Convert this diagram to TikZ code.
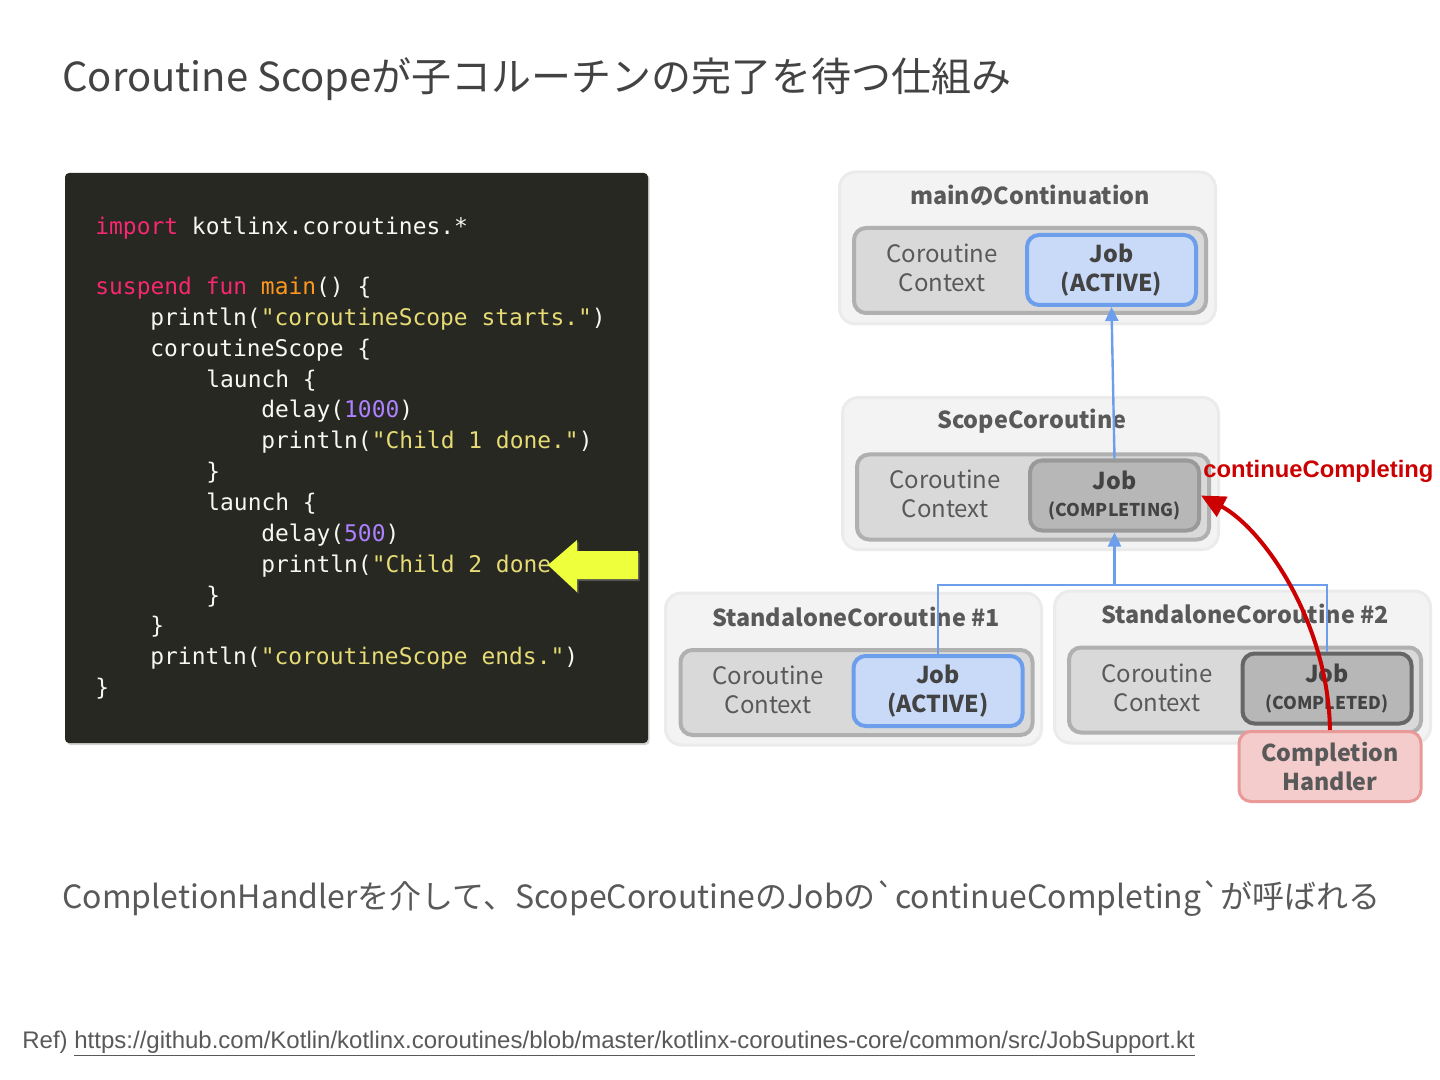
\documentclass[tikz,border=0pt]{standalone}
\usepackage{fontspec}
\setmainfont[Ligatures=TeXOff]{Noto Sans CJK JP}
\newfontfamily\codefont{DejaVu Sans Mono}
\newfontfamily\arialfont{Liberation Sans}
\usepackage{tikz}
\usetikzlibrary{arrows.meta,shadows}
\usepackage{xcolor}
\definecolor{Ink}{HTML}{434343}
\definecolor{Mid}{HTML}{595959}
\definecolor{PanelBg}{HTML}{272822}
\definecolor{CodeTxt}{HTML}{F8F8F2}
\definecolor{CodeKey}{HTML}{F92672}
\definecolor{CodeFun}{HTML}{FD971F}
\definecolor{CodeStr}{HTML}{E6DB74}
\definecolor{CodeNum}{HTML}{AE81FF}
\definecolor{Marker}{HTML}{EEFF3C}
\definecolor{OuterFill}{HTML}{F3F3F3}
\definecolor{OuterLine}{HTML}{EBEBEB}
\definecolor{CtxFill}{HTML}{D9D9D9}
\definecolor{CtxLine}{HTML}{B0B0B0}
\definecolor{ActFill}{HTML}{C9DAF8}
\definecolor{ActLine}{HTML}{6D9EEB}
\definecolor{DoneFill}{HTML}{B7B7B7}
\definecolor{DoneLine}{HTML}{999999}
\definecolor{DeadLine}{HTML}{666666}
\definecolor{HdlFill}{HTML}{F4CCCC}
\definecolor{HdlLine}{HTML}{EA9999}
\definecolor{Alarm}{HTML}{CC0000}
\newcommand{\ckw}[1]{\textcolor{CodeKey}{#1}}
\newcommand{\cfn}[1]{\textcolor{CodeFun}{#1}}
\newcommand{\cstr}[1]{\textcolor{CodeStr}{#1}}
\newcommand{\cnum}[1]{\textcolor{CodeNum}{#1}}
\tikzset{
  outerbox/.style={draw=OuterLine, fill=OuterFill, line width=1.5pt,
    rounded corners=8pt, minimum width=188pt, minimum height=76pt},
  ctxbox/.style={draw=CtxLine, fill=CtxFill, line width=2pt,
    rounded corners=6pt, minimum width=176pt, minimum height=42.5pt},
  jobbox/.style={draw=#1, line width=2pt, rounded corners=6pt,
    minimum width=84.5pt, minimum height=35pt, align=center,
    font=\fontsize{11.6}{14.5}\selectfont\bfseries, text=Ink, inner sep=0pt},
  jobbox/.default={ActLine},
  boxtitle/.style={font=\fontsize{11.7}{14}\selectfont\bfseries, text=Mid},
  ctxtext/.style={align=center, font=\fontsize{12}{14.5}\selectfont,
    text=Mid, inner sep=0pt},
  codeline/.style={anchor=base west, inner sep=0pt, text=CodeTxt,
    font=\codefont\fontsize{11.46}{15.4}\selectfont},
  bluearr/.style={-{Triangle[length=7pt,width=6.5pt]}, draw=ActLine, line width=1.2pt},
  blueline/.style={draw=ActLine, line width=1.2pt},
  redarr/.style={-{Triangle[length=12pt,width=11pt]}, draw=Alarm, line width=2pt},
}

\begin{document}
\begin{tikzpicture}[x=0.5pt, y=-0.5pt]
  \useasboundingbox (0,0) rectangle (1440,1080);

  \node[anchor=base west, inner sep=0pt, text=Ink,
    font=\fontsize{20}{24}\selectfont] (title) at (62,92)
    {Coroutine Scopeが子コルーチンの完了を待つ仕組み};

  % code panel
  \node[fill=PanelBg, rounded corners=2pt, minimum width=291.5pt, minimum height=285pt,
    drop shadow={opacity=0.35, shadow xshift=0.8pt, shadow yshift=-1pt}] (panel) at (356.5,458) {};
  \node[codeline] (c1) at (95,235) {\ckw{import} kotlinx.coroutines.*};
  \node[codeline] (c2) at (95,295) {\ckw{suspend} \ckw{fun} \cfn{main}() \{};
  \node[codeline] (c3) at (150,326) {println(\cstr{"coroutineScope starts."})};
  \node[codeline] (c4) at (150,357) {coroutineScope \{};
  \node[codeline] (c5) at (206,388) {launch \{};
  \node[codeline] (c6) at (261,418) {delay(\cnum{1000})};
  \node[codeline] (c7) at (261,449) {println(\cstr{"Child 1 done."})};
  \node[codeline] (c8) at (206,480) {\}};
  \node[codeline] (c9) at (206,510) {launch \{};
  \node[codeline] (c10) at (261,541) {delay(\cnum{500})};
  \node[codeline] (c11) at (261,572) {println(\cstr{"Child 2 done."})};
  \node[codeline] (c12) at (206,603) {\}};
  \node[codeline] (c13) at (150,633) {\}};
  \node[codeline] (c14) at (150,664) {println(\cstr{"coroutineScope ends."})};
  \node[codeline] (c15) at (95,695) {\}};
  \fill[Marker, drop shadow={opacity=0.5, shadow xshift=0.8pt, shadow yshift=-1pt}]
    (548,565) -- (577,540) -- (577,551) -- (638,551) -- (638,579)
    -- (577,579) -- (577,592) -- cycle;

  % mainのContinuation
  \node[outerbox] (mainout) at (1027.5,248) {};
  \node[boxtitle] (maintitle) at (1030,195) {mainのContinuation};
  \node[ctxbox] (mainctx) at (1030,270.5) {};
  \node[ctxtext] (mainctxt) at (942,268) {Coroutine\\Context};
  \node[jobbox, fill=ActFill] (mainjob) at (1111.5,270) {Job\\(ACTIVE)};

  % ScopeCoroutine
  \node[outerbox] (scopeout) at (1030.5,473.5) {};
  \node[boxtitle] (scopetitle) at (1032,421) {ScopeCoroutine};
  \node[ctxbox] (scopectx) at (1033,497) {};
  \node[ctxtext] (scopectxt) at (945,494) {Coroutine\\Context};
  \node[jobbox=DoneLine, fill=DoneFill] (scopejob) at (1114.5,495.5)
    {Job\\[-1pt]{\fontsize{8.8}{10}\selectfont(COMPLETING)}};

  % StandaloneCoroutine #1
  \node[outerbox] (sc1out) at (853.5,669) {};
  \node[boxtitle] (sc1title) at (856,617) {StandaloneCoroutine \#1};
  \node[ctxbox] (sc1ctx) at (856.5,692.5) {};
  \node[ctxtext] (sc1ctxt) at (768,690) {Coroutine\\Context};
  \node[jobbox, fill=ActFill] (sc1job) at (938,691) {Job\\(ACTIVE)};

  % StandaloneCoroutine #2
  \node[outerbox] (sc2out) at (1242.5,667) {};
  \node[boxtitle] (sc2title) at (1245,614) {StandaloneCoroutine \#2};
  \node[ctxbox] (sc2ctx) at (1245,690) {};
  \node[ctxtext] (sc2ctxt) at (1157,688) {Coroutine\\Context};
  \node[jobbox=DeadLine, fill=DoneFill] (sc2job) at (1327,688.5)
    {Job\\[-1pt]{\fontsize{8.8}{10}\selectfont(COMPLETED)}};

  \node[draw=HdlLine, fill=HdlFill, line width=1.5pt, rounded corners=6pt,
    minimum width=91pt, minimum height=35pt, align=center, inner sep=0pt,
    font=\fontsize{11.6}{14.5}\selectfont\bfseries, text=Mid] (handler) at (1330,766.5)
    {Completion\\Handler};

  % parent links
  \coordinate (fork) at (1114.5,585);
  \draw[bluearr] (scopejob.north) -- (mainjob.south);
  \draw[blueline] (sc1job.north) |- (fork);
  \draw[blueline] (sc2job.north) |- (fork);
  \draw[bluearr] (fork) -- (scopejob.south);

  \draw[redarr] (handler.north) .. controls (1328,620) and (1262,528) .. (scopejob.east);
  \node[anchor=base west, inner sep=0pt, text=Alarm,
    font=\arialfont\bfseries\fontsize{11.9}{13}\selectfont] (contlabel) at (1203,477)
    {continueCompleting};

  \node[anchor=base west, inner sep=0pt, text=Mid,
    font=\fontsize{16}{18}\selectfont] (caption) at (62,908)
    {CompletionHandlerを介して、ScopeCoroutineのJobの`continueCompleting`が呼ばれる};

  \node[anchor=base west, inner sep=0pt, text=Mid,
    font=\arialfont\fontsize{12}{14}\selectfont] (ref) at (22,1048)
    {Ref) \underline{https://github.com/Kotlin/kotlinx.coroutines/blob/master/kotlinx-coroutines-core/common/src/JobSupport.kt}};
\end{tikzpicture}
\end{document}
